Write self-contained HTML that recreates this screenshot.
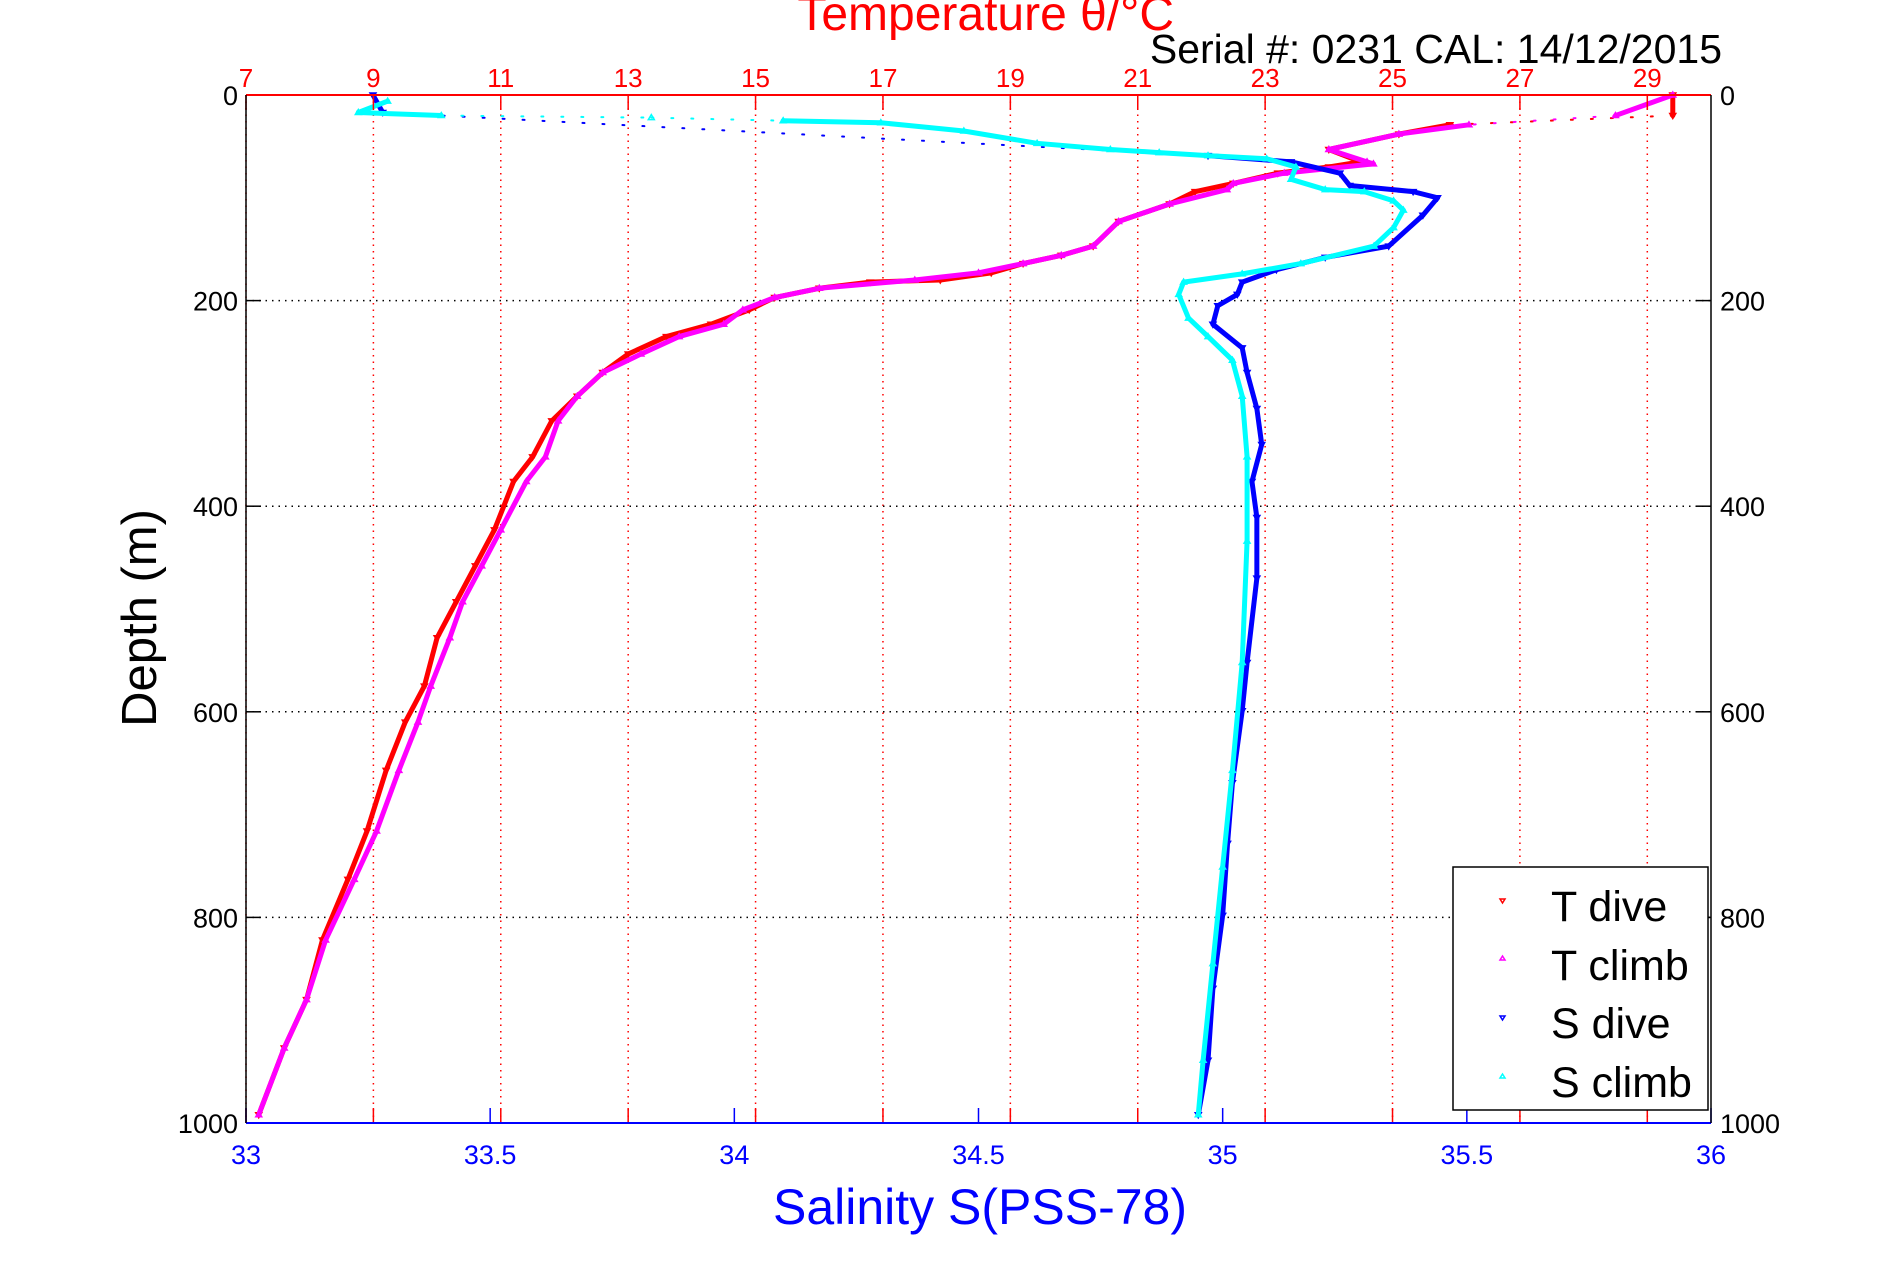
<!DOCTYPE html>
<html><head><meta charset="utf-8"><style>
html,body{margin:0;padding:0;background:#fff;}
svg{display:block;font-family:"Liberation Sans",sans-serif;}
</style></head><body>
<svg id="chart" width="1891" height="1262" viewBox="0 0 1891 1262">
<g id="grid"></g>
<g id="series"></g>
<g id="axes"></g>
<text x="1174" y="30" text-anchor="end" font-size="48" fill="#f00">Temperature θ/°C</text>
<text x="1722" y="63" text-anchor="end" font-size="41" fill="#000">Serial #: 0231  CAL: 14/12/2015</text>
<text x="980" y="1224" text-anchor="middle" font-size="50" fill="#00f">Salinity S(PSS-78)</text>
<text transform="translate(156,618) rotate(-90)" text-anchor="middle" font-size="49" fill="#000">Depth (m)</text>
<g>
<rect x="1453" y="867" width="255" height="243" fill="#fff" stroke="#000" stroke-width="1.5"/>
<path d="M1500,899 l5,0 l-2.5,4z" fill="none" stroke="#f00" stroke-width="1.5"/>
<path d="M1500,960 l5,0 l-2.5,-4z" fill="none" stroke="#f0f" stroke-width="1.5"/>
<path d="M1500,1016 l5,0 l-2.5,4z" fill="none" stroke="#00f" stroke-width="1.5"/>
<path d="M1500,1078 l5,0 l-2.5,-4z" fill="none" stroke="#0ff" stroke-width="1.5"/>
<text x="1551" y="921" font-size="43">T dive</text>
<text x="1551" y="980" font-size="43">T climb</text>
<text x="1551" y="1038" font-size="43">S dive</text>
<text x="1551" y="1097" font-size="43">S climb</text>
</g>
</svg>
<script>
const depthTicks=[0,200,400,600,800,1000];
const salTicks=[33,33.5,34,34.5,35,35.5,36];
const salTickLabels=["33","33.5","34","34.5","35","35.5","36"];
const tempTicks=[7,9,11,13,15,17,19,21,23,25,27,29];
const tDiveDepth=[0,20,29,38,53,65,70,76,86,94,106,123,147,156,164,173,180,182,188,197,209,223,235,252,270,293,317,352,376,423,458,493,528,575,610,657,716,763,822,880,927,992];
const tDiveTemp=[29.4,29.4,25.9,25.1,24.0,24.5,24.0,23.2,22.5,21.9,21.5,20.7,20.3,19.8,19.2,18.7,17.9,16.8,16.0,15.3,14.9,14.3,13.6,13.0,12.6,12.2,11.8,11.5,11.2,10.9,10.6,10.3,10.0,9.8,9.5,9.2,8.9,8.6,8.2,7.95,7.6,7.2];
const tClimbDepth=[0,20,29,38,53,65,67,76,86,92,106,123,147,156,164,173,180,188,197,209,223,235,252,270,293,317,352,376,423,458,493,528,575,610,657,716,763,822,880,927,992];
const tClimbTemp=[29.4,28.5,26.2,25.1,24.0,24.6,24.7,23.3,22.5,22.4,21.5,20.7,20.3,19.8,19.2,18.5,17.5,16.0,15.3,14.8,14.5,13.8,13.2,12.6,12.2,11.9,11.7,11.4,11.0,10.7,10.4,10.2,9.9,9.7,9.4,9.05,8.7,8.25,7.95,7.6,7.2];
const sDiveDepth=[0,17,59,65,76,88,94,100,117,147,158,170,182,194,205,223,246,270,305,340,376,411,470,552,599,669,728,798,869,939,992];
const sDiveSal=[33.26,33.28,34.97,35.14,35.24,35.26,35.39,35.44,35.41,35.34,35.21,35.11,35.04,35.03,34.99,34.98,35.04,35.05,35.07,35.08,35.06,35.07,35.07,35.05,35.04,35.02,35.01,35.00,34.98,34.97,34.95];
const sClimbDepth=[6,17,20,22,25,27,35,47,53,56,59,62,70,82,92,94,103,112,129,147,164,174,182,194,217,235,258,293,352,434,552,657,751,845,939,992];
const sClimbSal=[33.29,33.23,33.40,33.83,34.10,34.30,34.47,34.62,34.77,34.87,34.97,35.09,35.15,35.14,35.21,35.29,35.35,35.37,35.35,35.31,35.16,35.04,34.92,34.91,34.93,34.97,35.02,35.04,35.05,35.05,35.04,35.02,35.00,34.98,34.96,34.95];

const L=246,R=1711,T=95,B=1123;
const xS=s=>L+(s-33)/3*(R-L);
const xT=t=>L+(t-7)/23*(R-L);
const yD=d=>T+d/1000*(B-T);
const NS='http://www.w3.org/2000/svg';
function mk(tag,attrs,parent){const e=document.createElementNS(NS,tag);for(const k in attrs)e.setAttribute(k,attrs[k]);parent.appendChild(e);return e;}
const grid=document.getElementById('grid'),axes=document.getElementById('axes'),series=document.getElementById('series');

tempTicks.forEach(t=>{
  const x=xT(t);
  const g=mk('line',{x1:x,y1:T,x2:x,y2:B,stroke:'#f00','stroke-width':1.5,'stroke-dasharray':'1.5 5'},grid);
  
  
  const a=mk('line',{x1:x,y1:T,x2:x,y2:T+15,stroke:'#f00','stroke-width':1.5},axes);
  
  
  const b=mk('line',{x1:x,y1:B,x2:x,y2:B-15,stroke:'#f00','stroke-width':1.5},axes);
  
  
  const lb=mk('text',{x:x,y:87,'text-anchor':'middle','font-size':26,fill:'#f00'},axes);
  lb.textContent=String(t);
  
  
});
depthTicks.forEach(d=>{
  const y=yD(d);
  if(d>0&&d<1000){
    const g=mk('line',{x1:L,y1:y,x2:R,y2:y,stroke:'#000','stroke-width':1.5,'stroke-dasharray':'1.5 5'},grid);
    
    
  }
  const a=mk('line',{x1:L,y1:y,x2:L+15,y2:y,stroke:'#000','stroke-width':1.5},axes);
  
  
  const b=mk('line',{x1:R,y1:y,x2:R-15,y2:y,stroke:'#000','stroke-width':1.5},axes);
  
  
  const l1=mk('text',{x:L-8,y:y+10,'text-anchor':'end','font-size':27,fill:'#000'},axes);
  l1.textContent=String(d);
  
  
  const l2=mk('text',{x:R+9,y:y+10,'text-anchor':'start','font-size':27,fill:'#000'},axes);
  l2.textContent=String(d);
  
  
});
salTicks.forEach((s,i)=>{
  const x=xS(s);
  const a=mk('line',{x1:x,y1:B,x2:x,y2:B-15,stroke:'#00f','stroke-width':1.5},axes);
  
  
  const lb=mk('text',{x:x,y:1164,'text-anchor':'middle','font-size':27,fill:'#00f'},axes);
  lb.textContent=salTickLabels[i];
  
  
});
let ax;
ax=mk('line',{x1:L,y1:T,x2:R,y2:T,stroke:'#f00','stroke-width':2},axes);


ax=mk('line',{x1:L,y1:B,x2:R,y2:B,stroke:'#00f','stroke-width':2},axes);


ax=mk('line',{x1:L,y1:T,x2:L,y2:B,stroke:'#000','stroke-width':1.5},axes);


ax=mk('line',{x1:R,y1:T,x2:R,y2:B,stroke:'#000','stroke-width':1.5},axes);



function drawSeries(depths,vals,xf,color,down,name){
  const g=mk('g',{},series);
  
  
  for(let i=1;i<depths.length;i++){
    const x0=xf(vals[i-1]),y0=yD(depths[i-1]),x1=xf(vals[i]),y1=yD(depths[i]);
    const dx=Math.abs(x1-x0),dy=Math.abs(y1-y0);
    const sparse=dx>100 && dx>3*dy;
    const seg=mk('line',{x1:x0,y1:y0,x2:x1,y2:y1,stroke:color,'stroke-width':sparse?2:5,'stroke-linecap':'round','stroke-dasharray':sparse?'2 18':'none'},g);
    
    
  }
  depths.forEach((d,i)=>{
    const x=xf(vals[i]),y=yD(d);
    const p=mk('path',{d:down?`M${x-3},${y-2} l6,0 l-3,5z`:`M${x-3},${y+2} l6,0 l-3,-5z`,fill:'none',stroke:color,'stroke-width':1.5},g);
    
    
  });
}
drawSeries(tDiveDepth,tDiveTemp,xT,'#f00',true,'t-dive-series');
drawSeries(tClimbDepth,tClimbTemp,xT,'#f0f',false,'t-climb-series');
drawSeries(sDiveDepth,sDiveSal,xS,'#00f',true,'s-dive-series');
drawSeries(sClimbDepth,sClimbSal,xS,'#0ff',false,'s-climb-series');
</script>
</body></html>
